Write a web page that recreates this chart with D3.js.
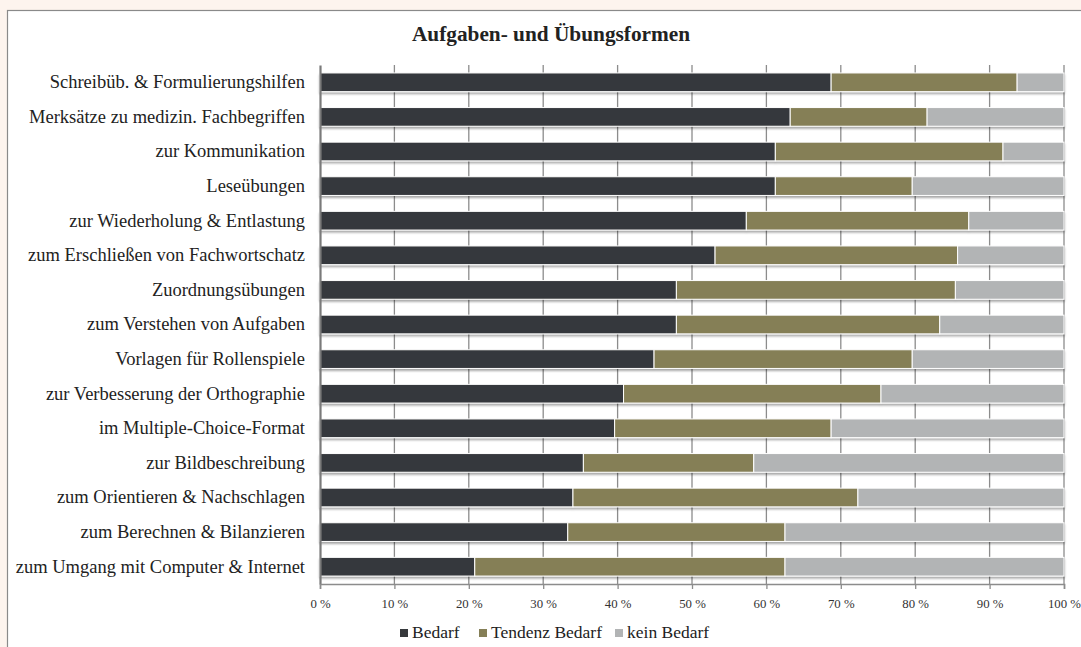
<!DOCTYPE html>
<html>
<head>
<meta charset="utf-8">
<script src="https://cdn.jsdelivr.net/npm/d3@7"></script>
<style>
  body { margin: 0; background: #fdf4ee; overflow: hidden; }
  svg { display: block; }
</style>
</head>
<body>
<div id="chart-area"></div>
<script>
// DATA (in percent)
const categories = [
  "Schreibüb. & Formulierungshilfen",
  "Merksätze zu medizin. Fachbegriffen",
  "zur Kommunikation",
  "Leseübungen",
  "zur Wiederholung & Entlastung",
  "zum Erschließen von Fachwortschatz",
  "Zuordnungsübungen",
  "zum Verstehen von Aufgaben",
  "Vorlagen für Rollenspiele",
  "zur Verbesserung der Orthographie",
  "im Multiple-Choice-Format",
  "zur Bildbeschreibung",
  "zum Orientieren & Nachschlagen",
  "zum Berechnen & Bilanzieren",
  "zum Umgang mit Computer & Internet"
]
const bedarf = [68.7, 63.2, 61.2, 61.2, 57.3, 53.1, 47.9, 47.9, 44.9, 40.8, 39.6, 35.4, 34.0, 33.3, 20.8]
const tendenz = [25.0, 18.4, 30.6, 18.4, 29.9, 32.6, 37.5, 35.4, 34.7, 34.6, 29.1, 22.9, 38.3, 29.2, 41.7]
const keinBedarf = [6.3, 18.4, 8.2, 20.4, 12.8, 14.3, 14.6, 16.7, 20.4, 24.6, 31.3, 41.7, 27.7, 37.5, 37.5]
const seriesNames = ["Bedarf", "Tendenz Bedarf", "kein Bedarf"]
const xTicks = [0, 10, 20, 30, 40, 50, 60, 70, 80, 90, 100]
const title = "Aufgaben- und Übungsformen"

const COLORS = ["#36393c", "#857f57", "#b2b4b5"]
const FONT = "'Liberation Serif', 'Times New Roman', serif"
const W = 1081, H = 647
const PLOT = { LEFT: 320, RIGHT: 1064, TOP: 65, BOTTOM: 584 }

const svg = d3.select("#chart-area").append("svg")
  .attr("width", W)
  .attr("height", H)

// drop shadow for bars
const defs = svg.append("defs")
const filt = defs.append("filter").attr("id", "shadow")
  .attr("x", "-2%").attr("y", "-20%").attr("width", "104%").attr("height", "160%")
filt.append("feDropShadow")
  .attr("dx", 0).attr("dy", 2).attr("stdDeviation", 1.2)
  .attr("flood-color", "#000").attr("flood-opacity", 0.35)

// chart frame (runs off the right and bottom edges, as in the source)
svg.append("rect")
  .attr("x", 7.5).attr("y", 10.5)
  .attr("width", 1090).attr("height", 650)
  .attr("fill", "#fff")
  .attr("stroke", "#8a8a8a")
  .attr("stroke-width", 1.2)

svg.append("text")
  .attr("x", 551).attr("y", 41)
  .attr("text-anchor", "middle")
  .style("font-family", FONT)
  .style("font-size", "21.3px")
  .style("font-weight", "bold")
  .style("fill", "#222")
  .text(title)

const xScale = d3.scaleLinear()
  .domain([0, 100])
  .range([PLOT.LEFT, PLOT.RIGHT])

const yScale = d3.scaleBand()
  .domain(categories)
  .range([PLOT.TOP, PLOT.BOTTOM])
  .paddingInner(0.46)
  .paddingOuter(0.23)

// GRIDLINES
svg.append("g")
  .selectAll("line")
  .data(xTicks.slice(1))
  .enter().append("line")
  .attr("x1", d => xScale(d)).attr("x2", d => xScale(d))
  .attr("y1", PLOT.TOP).attr("y2", PLOT.BOTTOM)
  .attr("stroke", "#8c8c8c")
  .attr("stroke-width", 1.3)

// STACKED BARS
const rows = categories.map((c, i) => ({ cat: c, Bedarf: bedarf[i], "Tendenz Bedarf": tendenz[i], "kein Bedarf": keinBedarf[i] }))
const stack = d3.stack().keys(seriesNames)(rows)

const layers = svg.append("g").attr("filter", "url(#shadow)")
  .selectAll("g")
  .data(stack)
  .enter().append("g")
  .attr("fill", (d, i) => COLORS[i])

layers.selectAll("rect")
  .data(d => d)
  .enter().append("rect")
  .attr("x", d => xScale(d[0]))
  .attr("y", d => yScale(d.data.cat))
  .attr("width", d => xScale(d[1]) - xScale(d[0]))
  .attr("height", yScale.bandwidth())
  .attr("stroke", "#fff")
  .attr("stroke-width", 1)

// Y AXIS
const yAxis = svg.append("g")
  .attr("transform", `translate(${PLOT.LEFT},0)`)
  .call(d3.axisLeft(yScale).tickSize(0).tickPadding(15))
yAxis.select(".domain").attr("stroke", "#7a7a7a").attr("stroke-width", 2.2)
yAxis.selectAll("text")
  .style("font-family", FONT)
  .style("font-size", "18.5px")
  .style("fill", "#222")

// X AXIS
const xAxis = svg.append("g")
  .attr("transform", `translate(0,${PLOT.BOTTOM})`)
  .call(d3.axisBottom(xScale).tickValues(xTicks).tickSize(5).tickPadding(10).tickFormat(d => d + " %"))
xAxis.select(".domain").attr("stroke", "#8c8c8c").attr("stroke-width", 1.6)
xAxis.selectAll(".tick line").attr("stroke", "#8c8c8c").attr("stroke-width", 1.3)
xAxis.selectAll("text")
  .style("font-family", FONT)
  .style("font-size", "12.8px")
  .style("fill", "#333")

// LEGEND
const legendX = [400, 479, 615]
const legend = svg.append("g")
seriesNames.forEach((name, i) => {
  legend.append("rect")
    .attr("x", legendX[i]).attr("y", 629)
    .attr("width", 8).attr("height", 8)
    .attr("fill", COLORS[i])
  legend.append("text")
    .attr("x", legendX[i] + 12).attr("y", 638)
    .style("font-family", FONT)
    .style("font-size", "17.5px")
    .style("fill", "#222")
    .text(name)
})
</script>
</body>
</html>
